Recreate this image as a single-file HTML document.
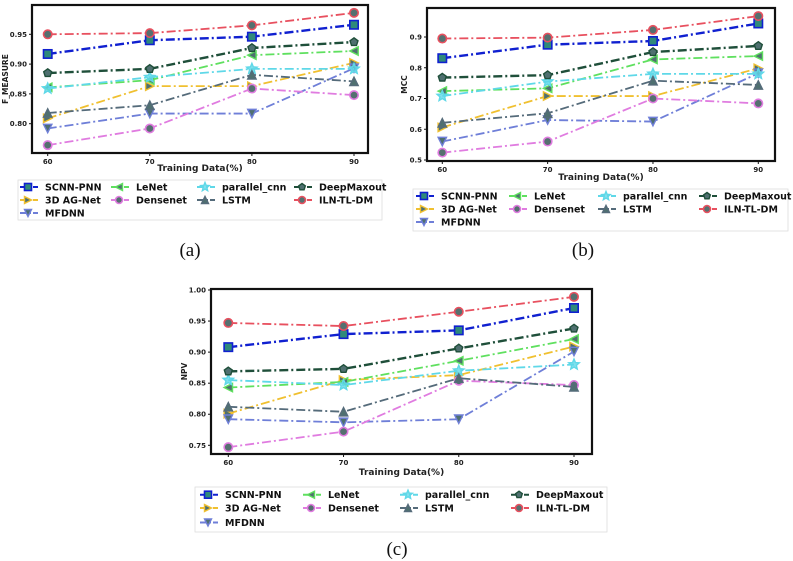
<!DOCTYPE html>
<html><head><meta charset="utf-8">
<style>
body{margin:0;background:#fff;}
svg{display:block;font-family:"DejaVu Sans","Liberation Sans",sans-serif;}
.cap{font-family:"Liberation Serif",serif;font-size:19px;}
</style></head>
<body>
<svg id="fig" width="793" height="561" viewBox="0 0 793 561"></svg>
<script>
const categories = [60, 70, 80, 90];
const seriesNames = ["SCNN-PNN","3D AG-Net","MFDNN","LeNet","Densenet","parallel_cnn","LSTM","DeepMaxout","ILN-TL-DM"];
// Panel (a) F_MEASURE
const fmScnn = [0.917,0.940,0.946,0.966];
const fm3dag = [0.809,0.863,0.863,0.902];
const fmMfdnn = [0.792,0.817,0.817,0.893];
const fmLenet = [0.861,0.873,0.915,0.922];
const fmDense = [0.764,0.792,0.859,0.848];
const fmPar = [0.859,0.878,0.892,0.892];
const fmLstm = [0.818,0.831,0.882,0.871];
const fmDm = [0.885,0.892,0.927,0.937];
const fmIln = [0.950,0.952,0.965,0.986];
const fmTicks = [0.80,0.85,0.90,0.95];
// Panel (b) MCC
const mccScnn = [0.831,0.875,0.887,0.944];
const mcc3dag = [0.606,0.708,0.708,0.798];
const mccMfdnn = [0.560,0.630,0.625,0.782];
const mccLenet = [0.724,0.733,0.827,0.838];
const mccDense = [0.524,0.560,0.700,0.684];
const mccPar = [0.708,0.755,0.780,0.780];
const mccLstm = [0.621,0.652,0.758,0.744];
const mccDm = [0.768,0.776,0.851,0.871];
const mccIln = [0.895,0.898,0.923,0.968];
const mccTicks = [0.5,0.6,0.7,0.8,0.9];
// Panel (c) NPV
const npvScnn = [0.908,0.929,0.935,0.971];
const npv3dag = [0.801,0.855,0.863,0.909];
const npvMfdnn = [0.792,0.787,0.792,0.901];
const npvLenet = [0.843,0.852,0.886,0.921];
const npvDense = [0.747,0.772,0.854,0.847];
const npvPar = [0.855,0.847,0.870,0.880];
const npvLstm = [0.812,0.804,0.858,0.844];
const npvDm = [0.869,0.873,0.906,0.938];
const npvIln = [0.947,0.942,0.965,0.989];
const npvTicks = [0.75,0.80,0.85,0.90,0.95,1.00];

const colors = ["#1020d0","#f0c030","#6f7fd8","#5fe05f","#e07ce0","#5fd8e8","#556b7a","#1f4f3a","#e8505f"];
const markers = ["s",">","v","<","o","*","^","p","o"];
const NS="http://www.w3.org/2000/svg";
const svg=document.getElementById("fig");
function el(tag,attrs,parent){const e=document.createElementNS(NS,tag);for(const k in attrs)e.setAttribute(k,attrs[k]);(parent||svg).appendChild(e);return e;}
function marker(g,type,x,y,r,col){
  let e;
  if(type==="s") e=el("rect",{x:x-r,y:y-r,width:2*r,height:2*r,fill:"#2f8a7a",stroke:col,"stroke-width":1.6},g);
  else if(type==="o") e=el("circle",{cx:x,cy:y,r:r,fill:"#557070",stroke:col,"stroke-width":1.6},g);
  else{
    let pts=[];
    if(type===">") pts=[[x+r,y],[x-r,y-r],[x-r,y+r]];
    if(type==="<") pts=[[x-r,y],[x+r,y-r],[x+r,y+r]];
    if(type==="v") pts=[[x,y+r],[x-r,y-r],[x+r,y-r]];
    if(type==="^") pts=[[x,y-r],[x-r,y+r],[x+r,y+r]];
    if(type==="p"){for(let i=0;i<5;i++){const a=-Math.PI/2+i*2*Math.PI/5;pts.push([x+r*Math.cos(a),y+r*Math.sin(a)]);}}
    if(type==="*"){for(let i=0;i<10;i++){const a=-Math.PI/2+i*Math.PI/5;const rr=i%2?r*0.45:r;pts.push([x+rr*Math.cos(a),y+rr*Math.sin(a)]);}}
    e=el("polygon",{points:pts.map(p=>p.join(",")).join(" "),fill:type==="*"?col:"#4f7070",stroke:col,"stroke-width":1.4,"fill-opacity":type==="*"?0.8:1},g);
  }
  return e;
}
function panel(p){
  const g=el("g",{});
  
  
  const xs=v=>p.x60+(v-60)/30*(p.x90-p.x60);
  const ys=v=>p.yA+(v-p.vA)/(p.vB-p.vA)*(p.yB-p.yA);
  const fr=el("rect",{x:p.fx1,y:p.fy1,width:p.fx2-p.fx1,height:p.fy2-p.fy1,fill:"#fff",stroke:"#111","stroke-width":2.2},g);
  
  
  categories.forEach(c=>{
    el("line",{x1:xs(c),x2:xs(c),y1:p.fy2,y2:p.fy2+3,stroke:"#111"},g);
    const t=el("text",{x:xs(c),y:p.fy2+11,"font-size":7,"font-weight":"bold","text-anchor":"middle",fill:"#222"},g);t.textContent=c;
    
    
  });
  p.ticks.forEach(v=>{
    el("line",{x1:p.fx1-3,x2:p.fx1,y1:ys(v),y2:ys(v),stroke:"#111"},g);
    const t=el("text",{x:p.fx1-5,y:ys(v)+2.5,"font-size":7,"font-weight":"bold","text-anchor":"end",fill:"#222"},g);t.textContent=p.tickFmt(v);
    
    
  });
  const xl=el("text",{x:(p.fx1+p.fx2)/2,y:p.xly,"font-size":9,"font-weight":"bold","text-anchor":"middle",fill:"#222"},g);xl.textContent="Training Data(%)";
  
  
  const yx=p.fx1-(p.ydx||22),yy=(p.fy1+p.fy2)/2;
  const yl=el("text",{x:yx,y:yy,"font-size":7.5,"font-weight":"bold","text-anchor":"middle",fill:"#222",transform:`rotate(-90 ${yx} ${yy})`},g);yl.textContent=p.ylabel;
  
  
  p.data.forEach((arr,i)=>{
    const line=el("polyline",{points:arr.map((v,j)=>xs(categories[j])+","+ys(v)).join(" "),fill:"none",stroke:colors[i],"stroke-width":i===0||i===7?2.4:1.8,"stroke-dasharray":"9,3,2,3"},g);
    
    
    arr.forEach((v,j)=>{
      const m=marker(g,markers[i],xs(categories[j]),ys(v),markers[i]==="*"?5.5:4.2,colors[i]);
      
      
    });
  });
  const lg=el("g",{},g);
  
  
  el("rect",{x:p.lx1,y:p.ly1,width:p.lx2-p.lx1,height:p.ly2-p.ly1,fill:"#fff",stroke:"#ddd","stroke-width":0.8},lg);
  const order=[[0,0],[1,0],[2,0],[0,1],[1,1],[0,2],[1,2],[0,3],[1,3]];
  order.forEach((rc,i)=>{
    const y=p.rows[rc[0]],tx=p.cols[rc[1]];
    const e=el("g",{},lg);
    
    
    el("line",{x1:tx-25,x2:tx-7,y1:y,y2:y,stroke:colors[i],"stroke-width":2,"stroke-dasharray":"7,2,2,2"},e);
    marker(e,markers[i],tx-17,y,markers[i]==="*"?4.5:3.5,colors[i]);
    const t=el("text",{x:tx,y:y+3.5,"font-size":9.5,"font-weight":"bold",fill:"#111"},e);t.textContent=seriesNames[i];
  });
  const cap=el("text",{x:p.capx,y:p.capy,"text-anchor":"middle",class:"cap",fill:"#111"},g);cap.textContent=p.cap;
  
  
}
panel({name:"panel-a-f-measure",fx1:32,fx2:368,fy1:5,fy2:153,x60:47.7,x90:354,yA:34.3,vA:0.95,yB:123.7,vB:0.80,
  ticks:fmTicks,tickFmt:v=>v.toFixed(2),ylabel:"F_MEASURE",xly:171,ydx:24,
  data:[fmScnn,fm3dag,fmMfdnn,fmLenet,fmDense,fmPar,fmLstm,fmDm,fmIln],
  lx1:18,lx2:382,ly1:180,ly2:220,rows:[187,200,213],cols:[45,136,222,319],cap:"(a)",capx:190,capy:256});
panel({name:"panel-b-mcc",fx1:427,fx2:775,fy1:8,fy2:161,x60:442.3,x90:758.3,yA:37,vA:0.9,yB:160,vB:0.5,
  ticks:mccTicks,tickFmt:v=>v.toFixed(1),ylabel:"MCC",xly:180,ydx:20,
  data:[mccScnn,mcc3dag,mccMfdnn,mccLenet,mccDense,mccPar,mccLstm,mccDm,mccIln],
  lx1:413,lx2:788,ly1:189,ly2:231,rows:[196,209,222],cols:[441,534,623,724],cap:"(b)",capx:583,capy:256});
panel({name:"panel-c-npv",fx1:211,fx2:592,fy1:289,fy2:454,x60:228.3,x90:574,yA:290,vA:1.0,yB:445.3,vB:0.75,
  ticks:npvTicks,tickFmt:v=>v.toFixed(2),ylabel:"NPV",xly:475,ydx:24,
  data:[npvScnn,npv3dag,npvMfdnn,npvLenet,npvDense,npvPar,npvLstm,npvDm,npvIln],
  lx1:195,lx2:607,ly1:487,ly2:532,rows:[494.7,508,522.5],cols:[225,328,425,536],cap:"(c)",capx:397,capy:555});
</script>
</body></html>
